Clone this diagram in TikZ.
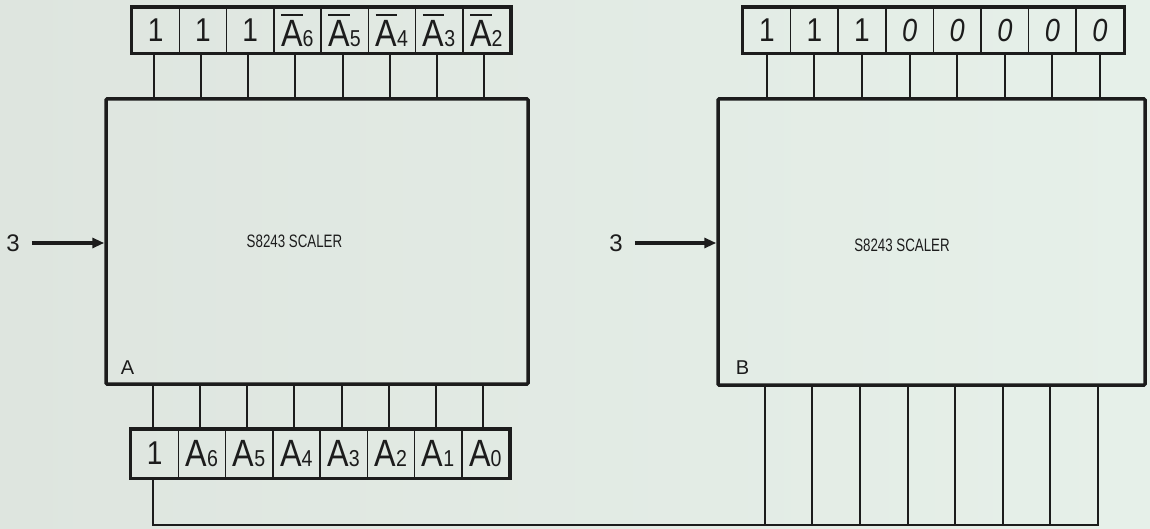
\documentclass[tikz,border=0pt]{standalone}
\usepackage{fontspec}
\usepackage{graphicx}
\setmainfont{Liberation Sans}
\newfontfamily\lettr{Liberation Sans}[FakeStretch=0.85]
\usetikzlibrary{arrows.meta}
\definecolor{bgl}{RGB}{222,229,223}
\definecolor{bgr}{RGB}{230,240,233}
\definecolor{ink}{RGB}{28,28,28}
\newcommand\barA[1]{\setbox0\hbox{A}\rlap{\raisebox{\dimexpr\ht0+4.5pt\relax}{\rule{\wd0}{2pt}}}\box0{\fontsize{23}{23}\selectfont #1}}
\newcommand\subA[1]{A{\fontsize{23}{23}\selectfont #1}}
\newcommand\zero{{\fontsize{32}{32}\selectfont\itshape 0}}
\newcommand\one{{\fontsize{33}{33}\selectfont 1}}
\tikzset{
  cell/.style={draw=ink, line width=1.5pt, minimum width=47.25pt, minimum height=45pt,
    inner sep=0pt, anchor=center, text=ink, font=\lettr\fontsize{38}{40}\selectfont},
  frame/.style={draw=ink, line width=3.5pt},
  wire/.style={draw=ink, line width=2pt},
  chip/.style={draw=ink, line width=3.5pt, inner sep=0pt, rounded corners=1pt},
  arr/.style={draw=ink, line width=3.6pt, -{Triangle[length=12pt,width=10pt]}},
  numlbl/.style={inner sep=0pt, text=ink, font=\fontsize{24}{24}\selectfont},
  letlbl/.style={inner sep=0pt, text=ink, font=\fontsize{20}{20}\selectfont},
  namelbl/.style={inner sep=0pt, text=ink, font=\fontsize{18}{18}\selectfont}
}
\begin{document}
\begin{tikzpicture}[x=1pt,y=-1pt]
\shade[left color=bgl, right color=bgr] (0,0) rectangle (1150,529);
\useasboundingbox (0,0) rectangle (1150,529);

% chips
\node[chip, minimum width=422pt, minimum height=285pt] (A) at (317,241.5) {};
\node[chip, minimum width=427pt, minimum height=286pt] (B) at (931.5,242) {};

% top register A
\foreach \i/\t in {1/\one,2/\one,3/\one,4/\barA{6},5/\barA{5},6/\barA{4},7/\barA{3},8/\barA{2}}
  \node[cell] (ta\i) at ({132+47.25*(\i-0.5)},30.5) {\t};
\draw[frame] (ta1.north west) rectangle (ta8.south east);

% bottom register A
\foreach \i/\t in {1/\one,2/\subA{6},3/\subA{5},4/\subA{4},5/\subA{3},6/\subA{2},7/\subA{1},8/\subA{0}}
  \node[cell, minimum height=48pt] (ba\i) at ({131+47.25*(\i-0.5)},453.5) {\t};
\draw[frame] (ba1.north west) rectangle (ba8.south east);

% top register B
\foreach \i/\t in {1/\one,2/\one,3/\one,4/\zero,5/\zero,6/\zero,7/\zero,8/\zero}
  \node[cell, minimum width=47.6pt] (tb\i) at ({743+47.6*(\i-0.5)},30.5) {\t};
\draw[frame] (tb1.north west) rectangle (tb8.south east);

% register-to-chip wires
\foreach \i in {1,...,8} {
  \draw[wire] ([xshift=-2pt]ta\i.south) -- ([xshift=-2pt]ta\i.south |- A.north);
  \draw[wire] ([xshift=-2pt]ba\i.north |- A.south) -- ([xshift=-2pt]ba\i.north);
  \draw[wire] (tb\i.south) -- (tb\i.south |- B.north);
}

% bus from A register to B outputs
\coordinate (busend) at (1099,525);
\draw[wire] ([xshift=-2pt]ba1.south) |- (busend);
\foreach \i in {1,...,8}
  \draw[wire] ([xshift=-2pt]B.south -| tb\i.south) -- ([xshift=-2pt]busend -| tb\i.south);

% inputs
\node[numlbl] (inA) at (13,243) {3};
\node[numlbl] (inB) at (616,243) {3};
\draw[arr, shorten <=12pt] (inA.east) -- (inA.east -| A.west);
\draw[arr, shorten <=12pt] (inB.east) -- (inB.east -| B.west);

% names
\node[namelbl] (nA) at (294.5,241) {\scalebox{0.74}[1]{S8243 SCALER}};
\node[namelbl] (nB) at (902,245) {\scalebox{0.74}[1]{S8243 SCALER}};
\node[letlbl] (lA) at (127.5,367.5) {A};
\node[letlbl] (lB) at (742.5,367.5) {B};
\end{tikzpicture}
\end{document}
